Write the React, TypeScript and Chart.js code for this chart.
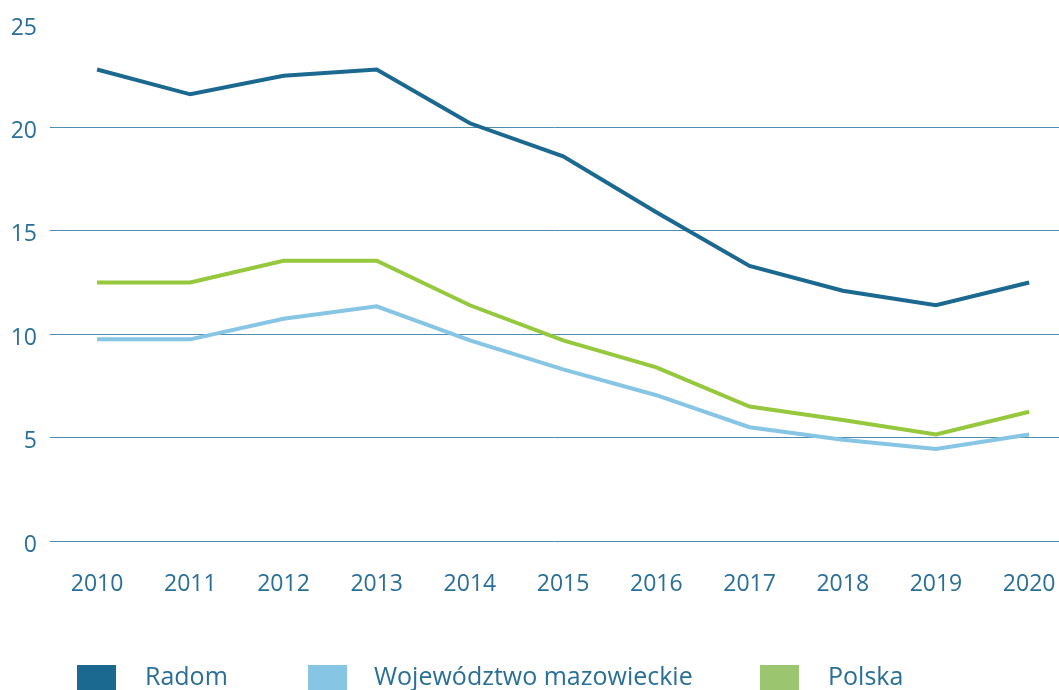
import React, { useEffect, useRef } from "react";
import { Chart, registerables } from "chart.js";

Chart.register(...registerables);

const years = [2010, 2011, 2012, 2013, 2014, 2015, 2016, 2017, 2018, 2019, 2020];
const radom = [22.8, 21.6, 22.5, 22.8, 20.2, 18.6, 15.9, 13.3, 12.1, 11.4, 12.5];
const mazowieckie = [9.75, 9.75, 10.75, 11.35, 9.7, 8.3, 7.05, 5.5, 4.9, 4.45, 5.15];
const polska = [12.5, 12.5, 13.55, 13.55, 11.4, 9.7, 8.4, 6.5, 5.85, 5.15, 6.25];
const yTicks = [0, 5, 10, 15, 20, 25];

const seriesNames = ["Radom", "Województwo mazowieckie", "Polska"];
const lineColors = ["#1b6890", "#87c5e5", "#95c83d"];
const legendColors = ["#1b6890", "#87c5e5", "#9bc66f"];

const TEXT = "#2a6f97";
const GRID = "#4f8db0";
const FONT = "'Open Sans', 'Noto Sans', sans-serif";

const toPoints = (vals: number[]) => vals.map((v, i) => ({ x: years[i], y: v }));

export default function App() {
  const ref = useRef<HTMLCanvasElement | null>(null);

  useEffect(() => {
    document.body.style.margin = "0";
    const ctx = ref.current!;
    const chart = new Chart(ctx, {
      type: "line",
      data: {
        datasets: [radom, mazowieckie, polska].map((vals, i) => ({
          label: seriesNames[i],
          data: toPoints(vals),
          borderColor: lineColors[i],
          backgroundColor: lineColors[i],
          borderWidth: 4,
          pointRadius: 0,
          tension: 0,
          fill: false,
        })),
      },
      options: {
        animation: false,
        responsive: false,
        maintainAspectRatio: false,
        layout: { padding: { top: 24, right: 0, bottom: 0, left: 0 } },
        plugins: { legend: { display: false }, tooltip: { enabled: false } },
        scales: {
          x: {
            type: "linear",
            min: 2009.495,
            max: 2020.32,
            afterBuildTicks: (axis: any) => {
              axis.ticks = years.map((v) => ({ value: v }));
            },
            afterFit: (axis: any) => {
              axis.height = 149;
              axis.paddingLeft = 0;
              axis.paddingRight = 0;
            },
            grid: { display: false, drawTicks: false },
            border: { display: false },
            ticks: {
              autoSkip: false,
              maxRotation: 0,
              padding: 30,
              color: TEXT,
              font: { family: FONT, size: 23 },
              callback: (v: any) => String(v),
            },
          },
          y: {
            min: 0,
            max: 25,
            afterBuildTicks: (axis: any) => {
              axis.ticks = yTicks.map((v) => ({ value: v }));
            },
            afterFit: (axis: any) => {
              axis.width = 50;
              axis.paddingTop = 0;
              axis.paddingBottom = 0;
            },
            grid: {
              drawTicks: false,
              lineWidth: 1,
              color: (c: any) => (c.tick && c.tick.value === 25 ? "rgba(0,0,0,0)" : GRID),
            },
            border: { display: false },
            ticks: {
              padding: 13,
              labelOffset: 4,
              color: TEXT,
              font: { family: FONT, size: 23 },
            },
          },
        },
      },
    });
    return () => chart.destroy();
  }, []);

  const legendPos = [
    { box: 77, text: 145 },
    { box: 308, text: 374 },
    { box: 760, text: 828 },
  ];

  return (
    <div
      style={{
        position: "fixed",
        left: 0,
        top: 0,
        width: 1059,
        height: 690,
        overflow: "hidden",
        background: "#fff",
        fontFamily: FONT,
      }}
    >
      <canvas ref={ref} width={1059} height={690} style={{ display: "block", width: 1059, height: 690 }} />
      {seriesNames.map((name, i) => (
        <React.Fragment key={name}>
          <div
            style={{
              position: "absolute",
              left: legendPos[i].box,
              top: 665,
              width: 39,
              height: 26,
              background: legendColors[i],
            }}
          />
          <div
            style={{
              position: "absolute",
              left: legendPos[i].text,
              top: 663,
              fontSize: 25,
              lineHeight: "25px",
              color: TEXT,
              whiteSpace: "nowrap",
            }}
          >
            {name}
          </div>
        </React.Fragment>
      ))}
    </div>
  );
}
